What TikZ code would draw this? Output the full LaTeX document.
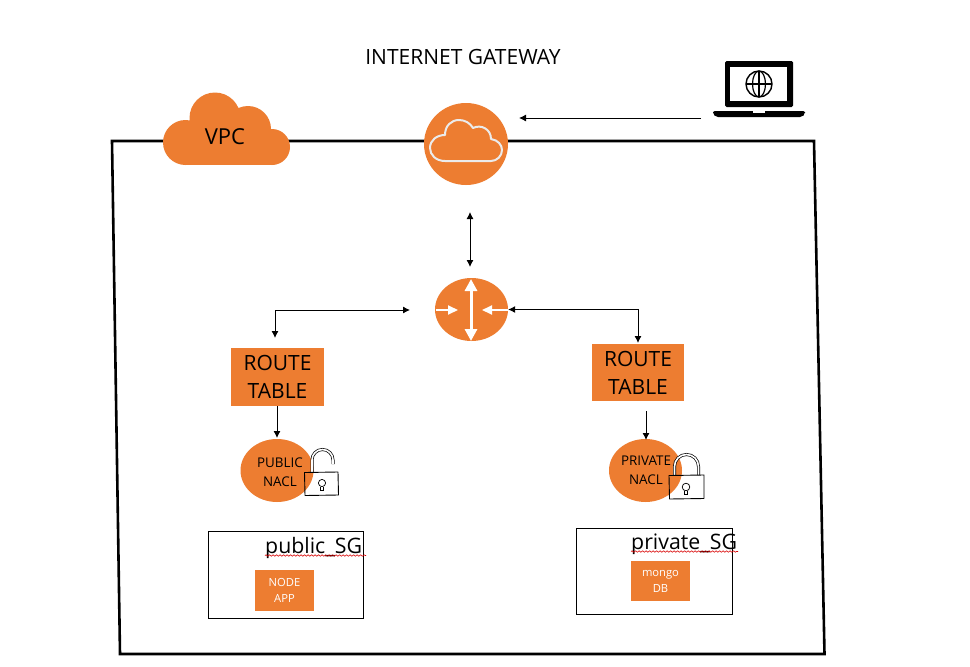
\documentclass[tikz,border=0pt]{standalone}
\usepackage{fontspec}
\setmainfont{Open Sans}
\usetikzlibrary{arrows.meta,shapes.geometric,decorations.pathmorphing}
\definecolor{awsorange}{HTML}{ED7D31}
\newcommand{\fsz}[1]{\fontsize{#1}{#1}\selectfont}
\tikzset{
  x=1pt,y=-1pt,
  frameline/.style={draw=black,line width=2.6pt,line join=miter},
  conn/.style={draw=black,line width=0.9pt,-{Latex[length=7pt,width=7pt]}},
  connboth/.style={draw=black,line width=0.9pt,{Latex[length=7pt,width=7pt]}-{Latex[length=7pt,width=7pt]}},
  orangefill/.style={fill=awsorange,draw=none},
  bigtable/.style={orangefill,inner sep=0pt,align=center,text=black,font=\fsz{21},execute at begin node={\setlength{\baselineskip}{28pt}}},
  nacl/.style={orangefill,ellipse,inner sep=0pt,minimum width=73pt,minimum height=63pt},
  nacltext/.style={inner sep=0pt,align=center,text=black,font=\fsz{13.4},execute at begin node={\setlength{\baselineskip}{19pt}}},
  appbox/.style={orangefill,inner sep=0pt,align=center,text=white,font=\fsz{11.2},execute at begin node={\setlength{\baselineskip}{16pt}}},
  sgbox/.style={draw=black,line width=1pt,inner sep=0pt},
  sgtext/.style={inner sep=0pt,anchor=base west,text=black,font=\fsz{21.3}},
  wavy/.style={draw=red!85!black,line width=0.6pt,decorate,decoration={snake,amplitude=0.7pt,segment length=3.5pt}},
  whitearrow/.style={draw=white,line width=2pt,-{Triangle[length=10pt,width=9pt]}},
  whitedouble/.style={draw=white,line width=3pt,{Triangle[length=12pt,width=12pt]}-{Triangle[length=12pt,width=12pt]}},
  shackle/.style={draw=black,double=white,line width=0.7pt,double distance=1.6pt},
  lockbody/.style={draw=black,line width=0.9pt,line join=round},
}
\begin{document}
\begin{tikzpicture}
\useasboundingbox (0,0) rectangle (970,667);
\fill[white] (0,0) rectangle (970,667);

% VPC frame
\draw[frameline] (112,141) -- (814,141) -- (824.5,654) -- (120,654) -- cycle;

% VPC cloud
\fill[awsorange] (215,118) circle (25.5) (248,129) circle (23) (272,147) circle (18) (185.5,142.5) circle (22.5);
\fill[awsorange] (186,135) rectangle (272,165);
\fill[awsorange] (205,120) rectangle (250,140);
\node[inner sep=0pt,text=black,font=\fsz{22}] (vpc) at (225,137) {VPC};

% internet gateway
\node[inner sep=0pt,text=black,font=\fsz{21}] (title) at (463,57) {INTERNET GATEWAY};
\node[orangefill,ellipse,inner sep=0pt,minimum width=84pt,minimum height=82pt] (igw) at (466,144) {};
\draw[white!92!black,line width=2pt,line join=round]
  (445,161) .. controls (436,161) and (430,155) .. (430,148)
  .. controls (430,140) and (437,135) .. (445,135)
  .. controls (445,126) and (451,120) .. (459,120)
  .. controls (465,120) and (470,123) .. (473,128)
  .. controls (481,124) and (491,129) .. (491,139)
  .. controls (498,140) and (502,145) .. (502,150)
  .. controls (502,156) and (497,161) .. (491,161) -- cycle;

% laptop
\fill[black,rounded corners=1.5pt] (725,61) rectangle (793,107);
\fill[white] (730,67) rectangle (787,101);
\fill[black,rounded corners=2pt] (713,111) -- (805,111) -- (805,114) -- (802,117) -- (716,117) -- (713,114) -- cycle;
\fill[white] (753,111) rectangle (765,112.8);
\draw[black,line width=1.4pt] (759,84) circle (13);
\draw[black,line width=1.2pt] (759,84) ellipse (6.5 and 13);
\draw[black,line width=1.2pt] (759,71) -- (759,97) (746,84) -- (772,84);
\coordinate (laptopout) at (701,118);
\coordinate (igwin) at (519,118);
\draw[conn] (laptopout) -- (igwin);

% router
\node[orangefill,ellipse,inner sep=0pt,minimum width=73pt,minimum height=63pt] (router) at (471.5,309.5) {};
\draw[whitedouble] (471,279) -- (471,341);
\draw[whitearrow] (435.5,310) -- (458,310);
\draw[whitearrow] (507.5,310) -- (482,310);

% igw - router
\coordinate (igwdown) at (470,212);
\coordinate (routerup) at (470,267);
\draw[connboth] (igwdown) -- (routerup);

% route tables
\node[bigtable,minimum width=93pt,minimum height=58pt] (rtl) at (277.5,377) {ROUTE\\TABLE};
\node[bigtable,minimum width=92pt,minimum height=57pt] (rtr) at (638,372.5) {ROUTE\\TABLE};

\coordinate (rtltop) at (275,338);
\coordinate (routerl) at (410,310);
\draw[connboth] (rtltop) |- (routerl);
\coordinate (rtrtop) at (638,343);
\draw[connboth] (router.east) -| (rtrtop);

% NACLs
\node[nacl] (naclpub) at (277,470.5) {};
\node[nacl] (naclpriv) at (645.5,470.5) {};
\node[nacltext] (naclpubt) at (280,472) {PUBLIC\\NACL};
\node[nacltext] (naclprivt) at (646,470) {PRIVATE\\NACL};
\coordinate (rtlb) at (277,406);
\coordinate (naclpubn) at (277,438);
\draw[conn] (rtlb) -- (naclpubn);
\coordinate (rtrb) at (646,411);
\coordinate (naclprivn) at (646,440);
\draw[conn] (rtrb) -- (naclprivn);

% locks
\draw[shackle] (312,472) -- (312,460) arc[start angle=180,end angle=360,radius=10.5] -- (333,464);
\draw[lockbody] (304.5,472.5) -- (338,472) -- (338.5,495) -- (305,495.5) -- cycle;
\draw[black,line width=0.7pt] (322,483) circle (3.6);
\draw[black,line width=0.7pt] (320.5,486.5) -- (320.5,490) -- (323.5,490) -- (323.5,486.5);

\draw[shackle] (674.5,475) -- (674.5,466.5) arc[start angle=180,end angle=360,radius=12] -- (698.5,475);
\draw[lockbody] (669,475.5) -- (704,475) -- (704,498.5) -- (669.5,499) -- cycle;
\draw[black,line width=0.7pt] (686,487) circle (3.8);
\draw[black,line width=0.7pt] (684.5,490.5) -- (684.5,494) -- (687.5,494) -- (687.5,490.5);

% security groups
\node[sgbox,minimum width=155pt,minimum height=87pt] (sgpub) at (285.5,574.5) {};
\node[sgbox,minimum width=156pt,minimum height=86pt] (sgpriv) at (654,571) {};
\node[appbox,minimum width=59pt,minimum height=41pt] (nodeapp) at (284.5,590.5) {NODE\\APP};
\node[appbox,minimum width=59pt,minimum height=40pt] (mongo) at (660.5,581) {mongo\\DB};
\node[sgtext] (sgpubt) at (265,553) {public\_SG};
\node[sgtext] (sgprivt) at (631,549) {private\_SG};
\coordinate (wa) at (265,555.5);
\coordinate (wb) at (366,555.5);
\coordinate (wc) at (631,551.5);
\coordinate (wd) at (738,551.5);
\draw[wavy] (wa) -- (wb);
\draw[wavy] (wc) -- (wd);
\end{tikzpicture}
\end{document}
